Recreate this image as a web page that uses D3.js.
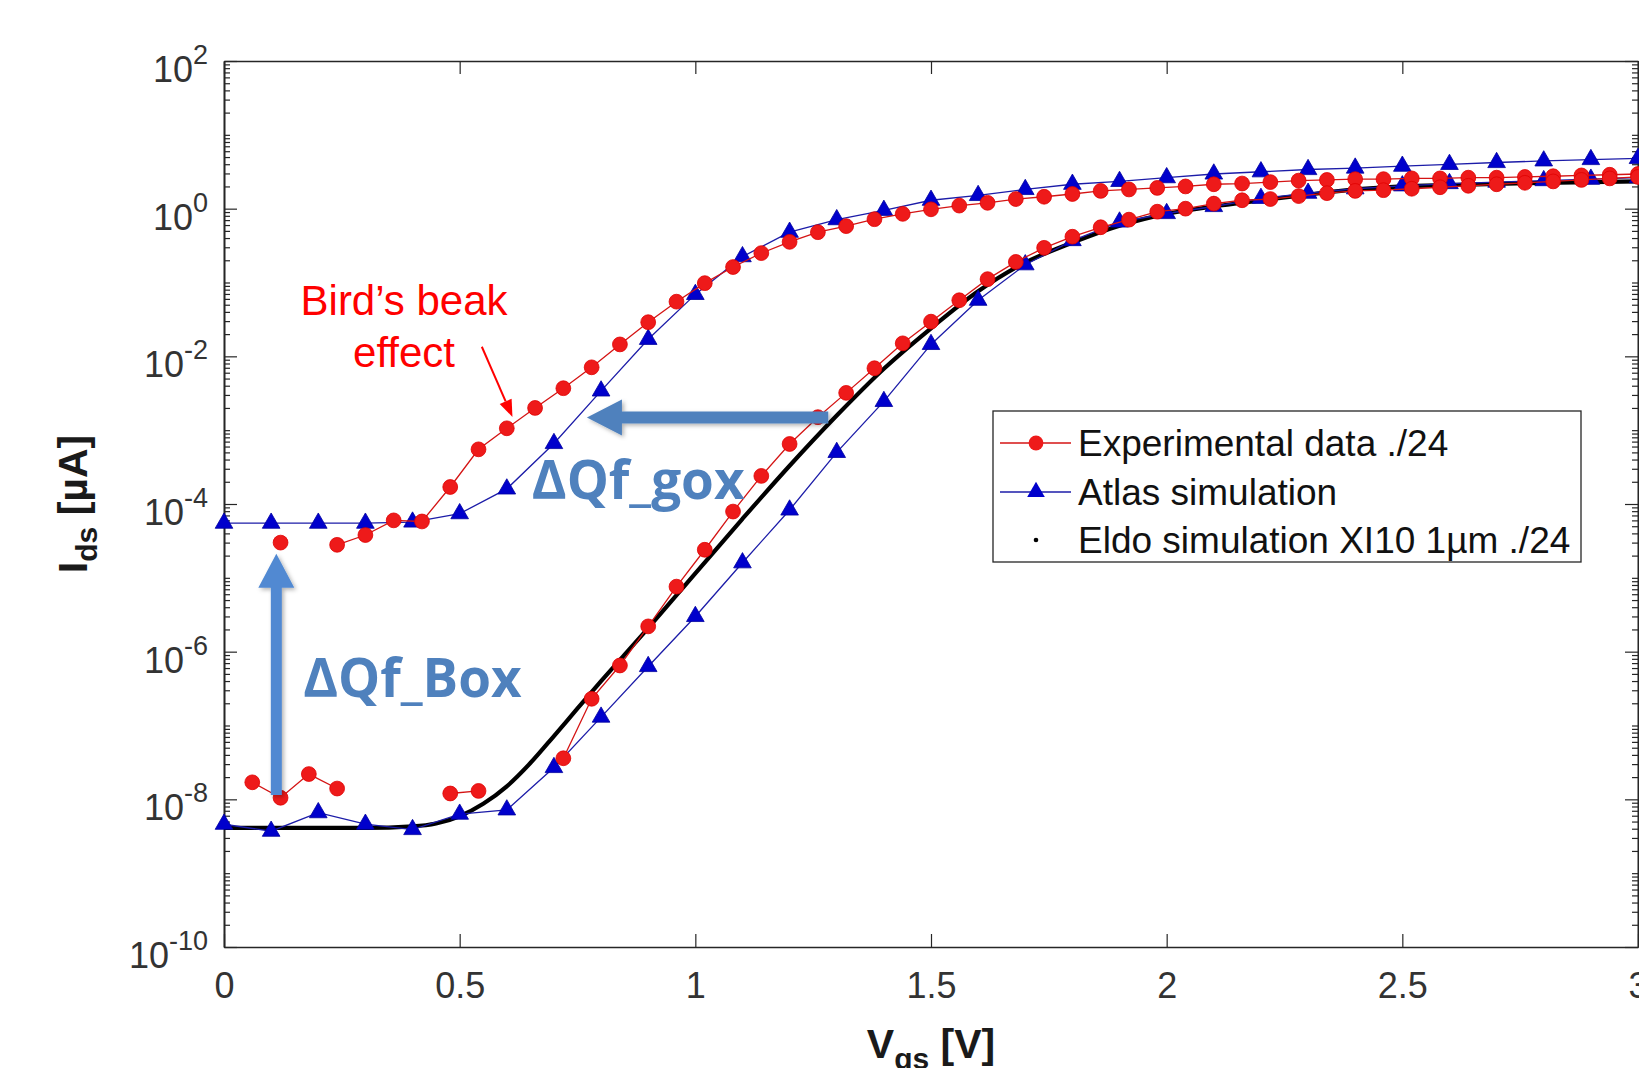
<!DOCTYPE html>
<html>
<head>
<meta charset="utf-8">
<script src="https://cdn.jsdelivr.net/npm/d3@7"></script>
<style>
  html, body { margin: 0; padding: 0; background: #fff; }
  svg { display: block; }
</style>
</head>
<body>
<svg id="chart" width="1639" height="1068"></svg>
<script>
// measured Vgs grid (V), experimental data every 60 mV
const vgsExp = [0.00, 0.06, 0.12, 0.18, 0.24, 0.30, 0.36, 0.42, 0.48, 0.54,
  0.60, 0.66, 0.72, 0.78, 0.84, 0.90, 0.96, 1.02, 1.08, 1.14,
  1.20, 1.26, 1.32, 1.38, 1.44, 1.50, 1.56, 1.62, 1.68, 1.74,
  1.80, 1.86, 1.92, 1.98, 2.04, 2.10, 2.16, 2.22, 2.28, 2.34,
  2.40, 2.46, 2.52, 2.58, 2.64, 2.70, 2.76, 2.82, 2.88, 2.94, 3.00];

// Ids (uA), null = point not shown on the log plot
const expHigh = [null, null, 3.0e-5, null, 2.8e-5, 3.8e-5, 6.0e-5, 5.8e-5, 1.7e-4, 5.5e-4,
  1.06e-3, 2.0e-3, 3.7e-3, 7.1e-3, 1.45e-2, 2.9e-2, 5.5e-2, 9.8e-2, 0.162, 0.25,
  0.355, 0.48, 0.58, 0.72, 0.85, 0.98, 1.10, 1.20, 1.35, 1.45,
  1.58, 1.74, 1.82, 1.91, 2.0, 2.14, 2.19, 2.29, 2.40, 2.45,
  2.51, 2.51, 2.57, 2.57, 2.63, 2.63, 2.69, 2.75, 2.82, 2.88, 2.95];

const expLow = [null, 1.7e-8, 1.05e-8, 2.2e-8, 1.4e-8, null, null, null, 1.2e-8, 1.3e-8,
  null, null, 3.6e-8, 2.3e-7, 6.5e-7, 2.2e-6, 7.6e-6, 2.4e-5, 7.9e-5, 2.4e-4,
  6.5e-4, 1.5e-3, 3.2e-3, 6.9e-3, 1.5e-2, 2.95e-2, 5.75e-2, 0.111, 0.19, 0.295,
  0.417, 0.56, 0.71, 0.91, 1.0, 1.17, 1.30, 1.35, 1.48, 1.62,
  1.74, 1.78, 1.86, 1.95, 2.04, 2.14, 2.24, 2.34, 2.45, 2.57, 2.69];

// Atlas simulation every 100 mV
const vgsAtlas = [0.0, 0.1, 0.2, 0.3, 0.4, 0.5, 0.6, 0.7, 0.8, 0.9,
  1.0, 1.1, 1.2, 1.3, 1.4, 1.5, 1.6, 1.7, 1.8, 1.9,
  2.0, 2.1, 2.2, 2.3, 2.4, 2.5, 2.6, 2.7, 2.8, 2.9, 3.0];

const atlasHigh = [5.5e-5, 5.5e-5, 5.5e-5, 5.5e-5, 5.7e-5, 7.4e-5, 1.6e-4, 6.6e-4, 3.4e-3, 1.7e-2,
  6.9e-2, 0.224, 0.48, 0.71, 0.95, 1.30, 1.51, 1.82, 2.14, 2.34,
  2.63, 2.95, 3.16, 3.39, 3.55, 3.76, 3.98, 4.22, 4.44, 4.63, 4.79];

const atlasLow = [4.6e-9, 3.7e-9, 6.6e-9, 4.6e-9, 3.9e-9, 6.3e-9, 7.2e-9, 2.7e-8, 1.3e-7, 6.3e-7,
  3.0e-6, 1.6e-5, 8.3e-5, 5.0e-4, 2.45e-3, 1.45e-2, 5.75e-2, 0.174, 0.37, 0.66,
  0.86, 1.07, 1.38, 1.62, 1.86, 2.04, 2.19, 2.29, 2.40, 2.51, 2.63];

// Eldo compact model (dense dots)
const vgsEldo = [0, 0.1, 0.2, 0.3, 0.4, 0.45, 0.5, 0.55, 0.6, 0.65, 0.7, 0.75, 0.8, 0.85, 0.9,
  1.0, 1.1, 1.2, 1.3, 1.4, 1.5, 1.6, 1.7, 1.8, 1.9, 2.0, 2.1, 2.2, 2.3, 2.4, 2.5, 2.6, 2.8, 3.0];
const eldo = [4.1e-9, 4.1e-9, 4.1e-9, 4.1e-9, 4.3e-9, 4.7e-9, 5.9e-9, 8.7e-9, 1.5e-8, 3.1e-8,
  7.2e-8, 1.7e-7, 3.98e-7, 9.1e-7, 2.09e-6, 1.15e-5, 6.3e-5, 3.3e-4, 1.58e-3, 6.8e-3,
  2.4e-2, 7.6e-2, 0.186, 0.347, 0.589, 0.851, 1.07, 1.29, 1.55, 1.82, 2.0, 2.09, 2.24, 2.34];

const xTicks = [0, 0.5, 1, 1.5, 2, 2.5, 3];
const xTickLabels = ["0", "0.5", "1", "1.5", "2", "2.5", "3"];
const legendLabels = ["Experimental data ./24", "Atlas simulation", "Eldo simulation XI10 1µm ./24"];

const svg = d3.select("#chart");
const x = d3.scaleLinear().domain([0, 3]).range([224, 1638]);
const y = d3.scaleLog().domain([1e-10, 1e2]).range([947, 61]);

const ink = "#262626";
const sans = "'Liberation Sans', Arial, Helvetica, sans-serif";
const redFill = "#ee1a1a", redLine = "#d41414";
const blueFill = "#0000cc", blueLine = "#1c1ca8";
const arrowBlue = "#4f81bd";

// shadow like the slide arrows
const defs = svg.append("defs");
defs.append("filter").attr("id", "shadow").attr("x", "-20%").attr("y", "-20%").attr("width", "140%").attr("height", "140%")
  .append("feDropShadow").attr("dx", 2).attr("dy", 2).attr("stdDeviation", 2)
  .attr("flood-color", "#000").attr("flood-opacity", 0.3);

// ---- axes ----
const logTicks = y.ticks(200);
const isMajor = v => {
  const e = Math.log10(v);
  return Math.abs(e - Math.round(e)) < 1e-9 && Math.round(e) % 2 === 0;
};
const majorY = logTicks.filter(isMajor);
const minorY = logTicks.filter(v => !isMajor(v));

function styleAxis(g) {
  g.selectAll("path.domain").attr("stroke", ink).attr("stroke-width", 1.6);
  g.selectAll(".tick line").attr("stroke", ink).attr("stroke-width", 1.2);
}
function noText(g) { g.selectAll("text").remove(); }

svg.append("g").attr("transform", `translate(${x(0)},0)`)
  .call(d3.axisLeft(y).tickValues(minorY).tickSize(-6).tickSizeOuter(0)).call(noText).call(styleAxis);
svg.append("g").attr("transform", `translate(${x(0)},0)`)
  .call(d3.axisLeft(y).tickValues(majorY).tickSize(-13).tickSizeOuter(0)).call(noText).call(styleAxis);
svg.append("g").attr("transform", `translate(${x(3)},0)`)
  .call(d3.axisRight(y).tickValues(minorY).tickSize(-6).tickSizeOuter(0)).call(noText).call(styleAxis);
svg.append("g").attr("transform", `translate(${x(3)},0)`)
  .call(d3.axisRight(y).tickValues(majorY).tickSize(-13).tickSizeOuter(0)).call(noText).call(styleAxis);
svg.append("g").attr("transform", `translate(0,${y(1e2)})`)
  .call(d3.axisTop(x).tickValues(xTicks).tickSize(-13).tickSizeOuter(0)).call(noText).call(styleAxis);

const xAxis = svg.append("g").attr("transform", `translate(0,${y(1e-10)})`)
  .call(d3.axisBottom(x).tickValues(xTicks).tickSize(-13).tickSizeOuter(0).tickPadding(25)
    .tickFormat((d, i) => xTickLabels[i]))
  .call(styleAxis);
xAxis.selectAll("text").attr("font-family", sans).attr("font-size", 36).attr("fill", "#333");

// y tick labels 10^n
majorY.forEach(v => {
  const e = Math.round(Math.log10(v));
  const t = svg.append("text").attr("x", x(0) - 16).attr("y", y(v) + 21)
    .attr("text-anchor", "end").attr("font-family", sans).attr("fill", "#333");
  t.append("tspan").attr("font-size", 36).text("10");
  t.append("tspan").attr("font-size", 27).attr("dy", -18).text(String(e));
});

// axis titles
const yTitle = svg.append("text")
  .attr("transform", `translate(87,${(y(1e2) + y(1e-10)) / 2}) rotate(-90)`)
  .attr("text-anchor", "middle").attr("font-family", sans).attr("font-weight", "bold")
  .attr("font-size", 41).attr("fill", "#1a1a1a");
yTitle.append("tspan").text("I");
yTitle.append("tspan").attr("font-size", 30).attr("dy", 10).text("ds");
yTitle.append("tspan").attr("dy", -10).text(" [µA]");

const xTitle = svg.append("text").attr("x", (x(0) + x(3)) / 2).attr("y", 1058)
  .attr("text-anchor", "middle").attr("font-family", sans).attr("font-weight", "bold")
  .attr("font-size", 41).attr("fill", "#1a1a1a");
xTitle.append("tspan").text("V");
xTitle.append("tspan").attr("font-size", 30).attr("dy", 11).text("gs");
xTitle.append("tspan").attr("dy", -11).text(" [V]");

// ---- series ----
const line = d3.line().defined(d => d[1] != null).x(d => x(d[0])).y(d => y(d[1]));
const tri = d3.symbol().type(d3.symbolTriangle).size(135);

// Eldo first (underneath)
const eldoPts = vgsEldo.map((v, i) => [v, eldo[i]]);
svg.append("path").datum(eldoPts)
  .attr("d", d3.line().x(d => x(d[0])).y(d => y(d[1])).curve(d3.curveMonotoneX))
  .attr("fill", "none").attr("stroke", "#000").attr("stroke-width", 4.2);

function drawAtlas(vals) {
  const pts = vgsAtlas.map((v, i) => [v, vals[i]]);
  svg.append("path").datum(pts).attr("d", line)
    .attr("fill", "none").attr("stroke", blueLine).attr("stroke-width", 1.3);
  svg.append("g").selectAll("path").data(pts.filter(d => d[1] != null)).join("path")
    .attr("transform", d => `translate(${x(d[0])},${y(d[1])})`)
    .attr("d", tri).attr("fill", blueFill).attr("stroke", "#0000a0").attr("stroke-width", 0.8);
}
function drawExp(vals) {
  const pts = vgsExp.map((v, i) => [v, vals[i]]);
  svg.append("path").datum(pts).attr("d", line)
    .attr("fill", "none").attr("stroke", redLine).attr("stroke-width", 1.3);
  svg.append("g").selectAll("circle").data(pts.filter(d => d[1] != null)).join("circle")
    .attr("cx", d => x(d[0])).attr("cy", d => y(d[1])).attr("r", 7.4)
    .attr("fill", redFill).attr("stroke", "#e00000").attr("stroke-width", 0.8);
}
drawAtlas(atlasHigh);
drawAtlas(atlasLow);
drawExp(expHigh);
drawExp(expLow);

// ---- legend ----
const lg = svg.append("g");
lg.append("rect").attr("x", 993).attr("y", 411).attr("width", 588).attr("height", 151)
  .attr("fill", "#fff").attr("stroke", ink).attr("stroke-width", 1.3);
const rowY = [443, 492, 540];
lg.append("line").attr("x1", 1000).attr("x2", 1071).attr("y1", rowY[0]).attr("y2", rowY[0])
  .attr("stroke", redLine).attr("stroke-width", 1.3);
lg.append("circle").attr("cx", 1036).attr("cy", rowY[0]).attr("r", 7.4).attr("fill", redFill);
lg.append("line").attr("x1", 1000).attr("x2", 1071).attr("y1", rowY[1]).attr("y2", rowY[1])
  .attr("stroke", blueLine).attr("stroke-width", 1.3);
lg.append("path").attr("transform", `translate(1036,${rowY[1]})`).attr("d", tri).attr("fill", blueFill);
lg.append("circle").attr("cx", 1036).attr("cy", rowY[2]).attr("r", 2.3).attr("fill", "#000");
legendLabels.forEach((s, i) => {
  lg.append("text").attr("x", 1078).attr("y", rowY[i] + 13).attr("font-family", sans)
    .attr("font-size", 37).attr("fill", "#111").text(s);
});

// ---- annotations ----
const bird = svg.append("text").attr("text-anchor", "middle").attr("font-family", sans)
  .attr("font-size", 42).attr("fill", "#ff0000");
bird.append("tspan").attr("x", x(0.382)).attr("y", y(Math.pow(10, -1.44))).text("Bird’s beak");
bird.append("tspan").attr("x", x(0.382)).attr("y", y(Math.pow(10, -2.14))).text("effect");

// red pointer
const p0 = [x(0.547), y(Math.pow(10, -1.87))], p1 = [x(0.612), y(Math.pow(10, -2.82))];
const ang = Math.atan2(p1[1] - p0[1], p1[0] - p0[0]);
const hl = 17, hw = 6.5;
const hb = [p1[0] - hl * Math.cos(ang), p1[1] - hl * Math.sin(ang)];
svg.append("line").attr("x1", p0[0]).attr("y1", p0[1]).attr("x2", hb[0]).attr("y2", hb[1])
  .attr("stroke", "#ff0000").attr("stroke-width", 2);
svg.append("path").attr("d", d3.line()([
  p1,
  [hb[0] + hw * Math.sin(ang), hb[1] - hw * Math.cos(ang)],
  [hb[0] - hw * Math.sin(ang), hb[1] + hw * Math.cos(ang)]
]) + "Z").attr("fill", "#ff0000");

// horizontal arrow (gate oxide charge shift)
const hy = y(Math.pow(10, -2.83)), hTip = x(0.770), hTail = x(1.282);
svg.append("path").attr("d", d3.line()([
  [hTail, hy - 6], [hTip + 35, hy - 6], [hTip + 35, hy - 18], [hTip, hy],
  [hTip + 35, hy + 18], [hTip + 35, hy + 6], [hTail, hy + 6]
]) + "Z").attr("fill", arrowBlue).attr("filter", "url(#shadow)");

// vertical arrow (buried oxide charge shift)
const vx = x(0.111), vBot = y(Math.pow(10, -7.94)), vTip = y(Math.pow(10, -4.675));
svg.append("path").attr("d", d3.line()([
  [vx - 5.5, vBot], [vx - 5.5, vTip + 34], [vx - 18, vTip + 34], [vx, vTip],
  [vx + 18, vTip + 34], [vx + 5.5, vTip + 34], [vx + 5.5, vBot]
]) + "Z").attr("fill", "#5189d2").attr("filter", "url(#shadow)");

const big = "'Open Sans', 'Noto Sans', sans-serif";
svg.append("text").attr("x", x(0.653)).attr("y", y(Math.pow(10, -3.93)))
  .attr("font-family", big).attr("font-weight", "bold").attr("font-size", 53)
  .attr("fill", arrowBlue).text("ΔQf_gox");
svg.append("text").attr("x", x(0.168)).attr("y", y(Math.pow(10, -6.62)))
  .attr("font-family", big).attr("font-weight", "bold").attr("font-size", 53)
  .attr("fill", arrowBlue).text("ΔQf_Box");
</script>
</body>
</html>
